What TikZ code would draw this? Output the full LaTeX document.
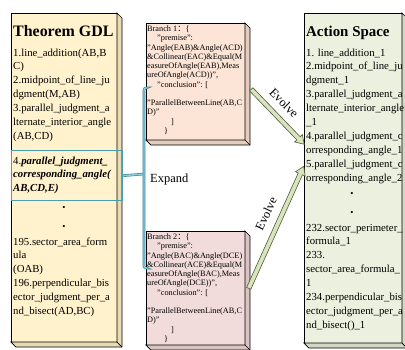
\documentclass[tikz,border=0pt]{standalone}
\usepackage{fontspec}
\setmainfont{Liberation Serif}
\newfontfamily\cjk{Noto Sans CJK SC}
\usetikzlibrary{calc,shapes.arrows}

\definecolor{gdlfill}{HTML}{FFF2CC}
\definecolor{gdlside}{HTML}{E9DCB5}
\definecolor{bonefill}{HTML}{FCE5D6}
\definecolor{boneside}{HTML}{E4CDBE}
\definecolor{btwofill}{HTML}{F2DCDB}
\definecolor{btwoside}{HTML}{DAC4C3}
\definecolor{actfill}{HTML}{EBF1DE}
\definecolor{actside}{HTML}{D2D8C5}
\definecolor{arrowfill}{HTML}{D7E4BD}
\definecolor{arrowline}{HTML}{4F5A3A}
\definecolor{tealdark}{HTML}{31859C}
\definecolor{teallight}{HTML}{92CDDC}
\definecolor{hlteal}{HTML}{4A9DB0}

% a block of lines whose baseline is that of its first line
\newcommand\textlines[1]{\begin{tabular}[t]{@{}l@{}}#1\end{tabular}}

\tikzset{
  boxline/.style={draw=black, line width=0.7bp},
  face/.style={boxline, anchor=north west, inner sep=0, outer sep=0},
  listtext/.style={anchor=base west, inner sep=0,
    font=\fontsize{10.8}{14}\selectfont},
  branchtext/.style={anchor=base west, inner sep=0,
    font=\fontsize{8.3}{9.3}\selectfont},
  titletext/.style={anchor=base west, inner sep=0,
    font=\fontsize{16}{19}\selectfont\bfseries},
  dotmark/.style={inner sep=0, font=\fontsize{9}{9}\selectfont},
  edgelabel/.style={inner sep=0, font=\fontsize{12.5}{14}\selectfont},
  evolvearrow/.style={single arrow, draw=arrowline, fill=arrowfill,
    line width=0.6bp, inner xsep=0, inner ysep=2bp, minimum width=10bp,
    single arrow head extend=3bp, single arrow tip angle=65},
  expandline/.style={draw=tealdark, line width=0.6bp, double=teallight,
    double distance=1.4bp},
}

% the two receding faces of a box with depth 5, behind its front face node
\newcommand\cubeside[2]{%
  \filldraw[boxline, fill=#2] (#1.north east) -- ++(5,5) --
    ($(#1.south east)+(5,5)$) -- ($(#1.south west)+(5,5)$) --
    (#1.south west) -- (#1.south east) -- cycle;
  \draw[boxline] (#1.south east) -- ++(5,5);
}

\begin{document}
\begin{tikzpicture}[x=1bp, y=-1bp]
\useasboundingbox (0,0) rectangle (405,350);
\clip (0,0) rectangle (405,350);

% ---- boxes ----
\node[face, fill=gdlfill, minimum width=106bp, minimum height=329bp] (gdl) at (11,13) {};
\cubeside{gdl}{gdlside}
\node[face, fill=bonefill, minimum width=99bp, minimum height=117bp] (bone) at (146,23) {};
\cubeside{bone}{boneside}
\node[face, fill=btwofill, minimum width=99bp, minimum height=114bp] (btwo) at (146,231) {};
\cubeside{btwo}{btwoside}
\node[face, fill=actfill, minimum width=98bp, minimum height=330bp] (act) at (304,13) {};
\cubeside{act}{actside}

% ---- Theorem GDL text ----
\node[titletext] (gdltitle) at (13,36) {Theorem GDL};
\node[listtext] (gdla) at (13,56) {\textlines{1.line\_addition(AB,B\\ C)\\ 2.midpoint\_of\_line\_ju\\ dgment(M,AB)\\
  3.parallel\_judgment\_a\\ lternate\_interior\_angle\\ (AB,CD)}};
\node[listtext] (gdlb) at (13,164) {\textlines{4.\textbf{\textit{parallel\_judgment\_}}\\
  \textbf{\textit{corresponding\_angle(}}\\ \textbf{\textit{AB,CD,E)}}}};
\node[dotmark] (gdld1) at (64,208) {\textbullet};
\node[dotmark] (gdld2) at (64,227) {\textbullet};
\node[listtext] (gdlc) at (13,245) {\textlines{195.sector\_area\_form\\ ula\\ (OAB)\\ 196.perpendicular\_bis\\
  ector\_judgment\_per\_a\\ nd\_bisect(AD,BC)}};

% highlighted theorem
\node[draw=hlteal, line width=1.3bp, anchor=north west, inner sep=0,
  minimum width=111bp, minimum height=50bp] (hl) at (11,150) {};

% ---- branches ----
\node[branchtext] (bonetext) at (147,31.5) {\textlines{Branch 1{\cjk ：}\{\\
  \hspace*{10bp}"premise":\\
  "Angle(EAB)\&Angle(ACD)\\
  \&Collinear(EAC)\&Equal(M\\
  easureOfAngle(EAB),Meas\\
  ureOfAngle(ACD))",\\
  \hspace*{10bp}"conclusion": [\\ \\
  "ParallelBetweenLine(AB,C\\
  D)"\\
  \hspace*{24bp}]\\
  \hspace*{17bp}\}}};
\node[branchtext] (btwotext) at (147,239.5) {\textlines{Branch 2{\cjk ：}\{\\
  \hspace*{10bp}"premise":\\
  "Angle(BAC)\&Angle(DCE)\\
  \&Collinear(ACE)\&Equal(M\\
  easureOfAngle(BAC),Meas\\
  ureOfAngle(DCE))",\\
  \hspace*{10bp}"conclusion": [\\ \\
  "ParallelBetweenLine(AB,C\\
  D)"\\
  \hspace*{24bp}]\\
  \hspace*{17bp}\}}};

% ---- Action Space text ----
\node[titletext, font=\fontsize{15}{18}\selectfont\bfseries] (acttitle) at (306,36) {Action Space};
\node[listtext] (acta) at (306,56) {\textlines{1. line\_addition\_1\\ 2.midpoint\_of\_line\_ju\\ dgment\_1\\
  3.parallel\_judgment\_a\\ lternate\_interior\_angle\\ \_1\\ 4.parallel\_judgment\_c\\
  orresponding\_angle\_1\\ 5.parallel\_judgment\_c\\ orresponding\_angle\_2}};
\node[dotmark] (actd1) at (352,194) {\textbullet};
\node[dotmark] (actd2) at (352,213) {\textbullet};
\node[listtext] (actb) at (306,231) {\textlines{232.sector\_perimeter\_\\ formula\_1\\ 233.\\ sector\_area\_formula\_\\ 1\\
  234.perpendicular\_bis\\ ector\_judgment\_per\_a\\ nd\_bisect()\_1}};

% ---- Expand connector ----
\coordinate (jt) at (144,174);
\coordinate (eone) at (bone.west |- 0,88);
\coordinate (etwo) at (btwo.west |- 0,268);
\draw[expandline] (hl.east) -- (jt);
\draw[expandline, rounded corners=2bp] (eone) -| (jt) |- (etwo);
\node[edgelabel, anchor=west] (expandlbl) at (150,180) {Expand};

% ---- Evolve arrows ----
\coordinate (vonea) at (250,88);
\coordinate (voneb) at (303,143);
\coordinate (vtwoa) at (248,290);
\coordinate (vtwob) at (303,168);
\path let \p1=($(voneb)-(vonea)$), \n1={atan2(\y1,\x1)}, \n2={veclen(\x1,\y1)} in
  node[evolvearrow, minimum height=\n2, rotate=\n1] (evone) at ($(vonea)!0.5!(voneb)$) {};
\path let \p1=($(vtwob)-(vtwoa)$), \n1={atan2(\y1,\x1)}, \n2={veclen(\x1,\y1)} in
  node[evolvearrow, minimum height=\n2, rotate=\n1] (evtwo) at ($(vtwoa)!0.5!(vtwob)$) {};
\node[edgelabel, rotate=-45] (evonelbl) at (284,103) {Evolve};
\node[edgelabel, rotate=65] (evtwolbl) at (266,214) {Evolve};
\end{tikzpicture}
\end{document}
